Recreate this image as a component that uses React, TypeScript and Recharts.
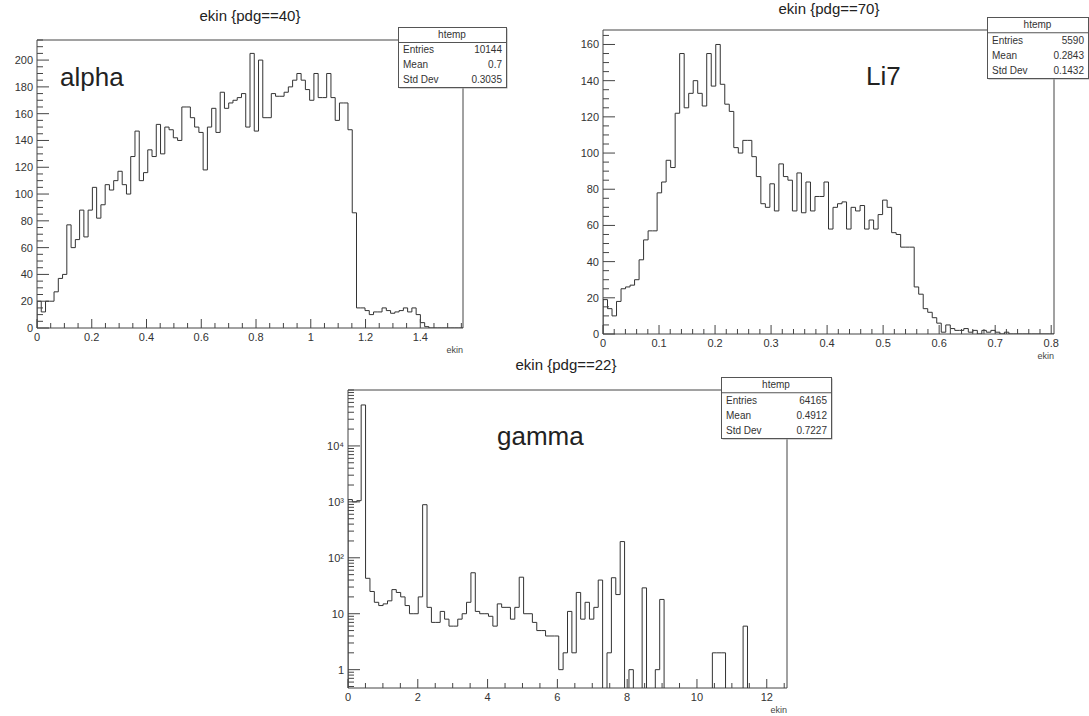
import React from 'react';
import { LineChart, Line, XAxis, YAxis, ReferenceArea } from 'recharts';

const FONT = '"Liberation Sans", Arial, Helvetica, sans-serif';

// ---------------- data ----------------
const alphaXMax = 1.556;
const alphaYMax = 215;
const alphaCounts = [
  20, 12, 20, 20, 27, 37, 40, 77, 60, 66,
  88, 68, 88, 105, 82, 92, 107, 103, 110, 117,
  107, 100, 128, 147, 110, 116, 133, 128, 152, 130,
  150, 148, 142, 140, 165, 165, 157, 150, 146, 118,
  150, 164, 146, 176, 164, 168, 170, 172, 175, 150,
  205, 147, 200, 157, 157, 175, 173, 173, 176, 180,
  185, 190, 185, 178, 170, 190, 172, 172, 190, 172,
  155, 168, 168, 148, 86, 15, 15, 13, 10, 12,
  12, 15, 13, 11, 12, 13, 15, 12, 15, 10,
  4, 1, 0, 0, 0, 0, 0, 0, 0, 0,
];
const alphaXTicks = [0, 0.2, 0.4, 0.6, 0.8, 1, 1.2, 1.4];
const alphaXLabels = ['0', '0.2', '0.4', '0.6', '0.8', '1', '1.2', '1.4'];
const alphaYTicks = [0, 20, 40, 60, 80, 100, 120, 140, 160, 180, 200];
const alphaYLabels = ['0', '20', '40', '60', '80', '100', '120', '140', '160', '180', '200'];

const li7XMax = 0.805;
const li7YMax = 168;
const li7Counts = [
  19, 14, 10, 18, 25, 26, 27, 30, 41, 52,
  57, 57, 78, 84, 96, 92, 122, 155, 125, 133,
  140, 133, 126, 155, 137, 160, 138, 127, 123, 103,
  100, 107, 107, 98, 87, 72, 70, 83, 68, 94,
  87, 85, 68, 89, 67, 84, 68, 76, 76, 84,
  58, 70, 72, 73, 58, 70, 68, 71, 58, 63,
  58, 66, 74, 70, 56, 55, 48, 48, 48, 26,
  22, 14, 12, 9, 6, 1, 5, 3, 2, 2,
  3, 1, 2, 0, 2, 1, 2, 1, 0, 1,
  0, 0, 0, 0, 0, 0, 0, 0, 0, 0,
];
const li7XTicks = [0, 0.1, 0.2, 0.3, 0.4, 0.5, 0.6, 0.7, 0.8];
const li7XLabels = ['0', '0.1', '0.2', '0.3', '0.4', '0.5', '0.6', '0.7', '0.8'];
const li7YTicks = [0, 20, 40, 60, 80, 100, 120, 140, 160];
const li7YLabels = ['0', '20', '40', '60', '80', '100', '120', '140', '160'];

const gammaXMax = 12.58;
const gammaYMin = 0.47;
const gammaYMax = 100000;
const gammaCounts = [
  1100, 1000, 1050, 54000, 43, 25, 16, 14, 15, 17,
  27, 24, 20, 14, 10, 10, 20, 890, 13, 7,
  7, 11, 8, 6, 6, 8, 10, 16, 54, 11,
  10, 10, 9, 6, 15, 13, 13, 8, 13, 45,
  10, 10, 7, 5, 5, 4, 4, 4, 1, 2,
  11, 2, 24, 8, 16, 8, 13, 40, 0, 2,
  44, 22, 195, 0, 1, 0, 0, 29, 0, 0,
  1, 18, 0, 0, 0, 0, 0, 0, 0, 0,
  0, 0, 0, 2, 2, 2, 0, 0, 0, 0,
  6, 0, 0, 0, 0, 0, 0, 0, 0, 0,
];
const gammaXTicks = [0, 2, 4, 6, 8, 10, 12];
const gammaXLabels = ['0', '2', '4', '6', '8', '10', '12'];
const gammaYTicks = [1, 10, 100, 1000, 10000];
const gammaYLabels = ['1', '10', '10\u00B2', '10\u00B3', '10\u2074'];

const stats = {
  alpha: { entries: '10144', mean: '0.7', std: '0.3035' },
  li7: { entries: '5590', mean: '0.2843', std: '0.1432' },
  gamma: { entries: '64165', mean: '0.4912', std: '0.7227' },
};

// ---------------- helpers ----------------
function histData(counts: number[], xmax: number, floor = 0) {
  const w = xmax / counts.length;
  const pts: { x: number; y: number }[] = [{ x: 0, y: floor }];
  counts.forEach((c, i) => pts.push({ x: i * w, y: c > 0 ? c : floor }));
  const last = counts[counts.length - 1];
  pts.push({ x: counts.length * w, y: last > 0 ? last : floor });
  return pts;
}

function linTicks(step: number, max: number) {
  const out: number[] = [];
  for (let i = 0; i * step <= max + 1e-9; i++) out.push(Math.round(i * step * 10000) / 10000);
  return out;
}

function logTicks(min: number, max: number) {
  const out: number[] = [];
  for (let e = -1; e <= 5; e++) {
    for (let m = 1; m <= 9; m++) {
      const v = Math.round(m * Math.pow(10, e) * 1000) / 1000;
      if (v >= min && v <= max) out.push(v);
    }
  }
  return out;
}

const TICK_COLOR = '#444';
const LABEL_COLOR = '#333';

function makeXTick(majors: number[], labels: string[]) {
  return (props: any) => {
    const { x, y, payload } = props;
    const idx = majors.findIndex((m) => Math.abs(m - payload.value) < 1e-6);
    const major = idx >= 0;
    return (
      <g>
        <line x1={x} x2={x} y1={y} y2={y - (major ? 9 : 5)} stroke={TICK_COLOR} strokeWidth={1} />
        {major && (
          <text x={x} y={y + 13} textAnchor="middle" fontSize={11} fill={LABEL_COLOR} fontFamily={FONT}>
            {labels[idx]}
          </text>
        )}
      </g>
    );
  };
}

function makeYTick(majors: number[], labels: string[], rel = false) {
  return (props: any) => {
    const { x, y, payload } = props;
    const idx = majors.findIndex((m) =>
      rel ? Math.abs(m - payload.value) < m * 1e-6 : Math.abs(m - payload.value) < 1e-6,
    );
    const major = idx >= 0;
    return (
      <g>
        <line x1={x} x2={x + (major ? 12 : 6)} y1={y} y2={y} stroke={TICK_COLOR} strokeWidth={1} />
        {major && (
          <text x={x - 4} y={y + 4} textAnchor="end" fontSize={11} fill={LABEL_COLOR} fontFamily={FONT}>
            {labels[idx]}
          </text>
        )}
      </g>
    );
  };
}

const AXIS_W = 30;
const AXIS_H = 20;

type PanelProps = {
  left: number;
  top: number;
  width: number;
  height: number;
  frame: { left: number; top: number; right: number; bottom: number };
  data: { x: number; y: number }[];
  xMax: number;
  yDomain: [number, number];
  xTicks: number[];
  xMajors: number[];
  xLabels: string[];
  yTicks: number[];
  yMajors: number[];
  yLabels: string[];
  log?: boolean;
};

function Panel(p: PanelProps) {
  const margin = {
    top: p.frame.top - p.top,
    left: p.frame.left - p.left - AXIS_W,
    right: p.left + p.width - p.frame.right,
    bottom: p.top + p.height - p.frame.bottom - AXIS_H,
  };
  return (
    <div style={{ position: 'absolute', left: p.left, top: p.top, width: p.width, height: p.height }}>
      <LineChart width={p.width} height={p.height} data={p.data} margin={margin}>
        <XAxis
          type="number"
          dataKey="x"
          domain={[0, p.xMax]}
          allowDataOverflow
          ticks={p.xTicks}
          interval={0}
          tickSize={0}
          tickMargin={0}
          height={AXIS_H}
          axisLine={false}
          tickLine={false}
          tick={makeXTick(p.xMajors, p.xLabels)}
        />
        <YAxis
          type="number"
          scale={p.log ? 'log' : 'linear'}
          domain={p.yDomain}
          allowDataOverflow
          ticks={p.yTicks}
          interval={0}
          tickSize={0}
          tickMargin={0}
          width={AXIS_W}
          axisLine={false}
          tickLine={false}
          tick={makeYTick(p.yMajors, p.yLabels, p.log)}
        />
        <ReferenceArea
          x1={0}
          x2={p.xMax}
          y1={p.yDomain[0]}
          y2={p.yDomain[1]}
          fill="none"
          fillOpacity={0}
          stroke="#444"
          strokeWidth={1}
          ifOverflow="visible"
        />
        <Line
          type="stepAfter"
          dataKey="y"
          stroke="#333"
          strokeWidth={1}
          dot={false}
          activeDot={false}
          isAnimationActive={false}
        />
      </LineChart>
    </div>
  );
}

function StatsBox({ x, y, w, h, s }: { x: number; y: number; w: number; h: number; s: { entries: string; mean: string; std: string } }) {
  const rh = h / 4;
  const rows: [string, string][] = [
    ['Entries', s.entries],
    ['Mean', s.mean],
    ['Std Dev', s.std],
  ];
  return (
    <g fontFamily={FONT} fontSize={10} fill="#333">
      <rect x={x + 1.5} y={y + 1.5} width={w} height={h} fill="#aaa" />
      <rect x={x + 0.5} y={y + 0.5} width={w} height={h} fill="#fff" stroke="#555" strokeWidth={1} />
      <line x1={x} x2={x + w} y1={y + rh + 0.5} y2={y + rh + 0.5} stroke="#555" strokeWidth={1} />
      <text x={x + w / 2} y={y + rh - 4} textAnchor="middle">htemp</text>
      {rows.map(([k, v], i) => (
        <g key={k}>
          <text x={x + 5} y={y + rh * (i + 2) - 4}>{k}</text>
          <text x={x + w - 4} y={y + rh * (i + 2) - 4} textAnchor="end">{v}</text>
        </g>
      ))}
    </g>
  );
}

export default function App() {
  const alphaData = histData(alphaCounts, alphaXMax, 0);
  const li7Data = histData(li7Counts, li7XMax, 0);
  const gammaData = histData(gammaCounts, gammaXMax, 0.1);

  return (
    <div
      style={{
        position: 'absolute',
        left: 0,
        top: 0,
        width: 1089,
        height: 716,
        background: '#fff',
        overflow: 'hidden',
        fontFamily: FONT,
      }}
    >
      <Panel
        left={0}
        top={0}
        width={490}
        height={360}
        frame={{ left: 37, top: 40, right: 463, bottom: 328 }}
        data={alphaData}
        xMax={alphaXMax}
        yDomain={[0, alphaYMax]}
        xTicks={linTicks(0.05, alphaXMax)}
        xMajors={alphaXTicks}
        xLabels={alphaXLabels}
        yTicks={linTicks(5, alphaYMax)}
        yMajors={alphaYTicks}
        yLabels={alphaYLabels}
      />
      <Panel
        left={540}
        top={0}
        width={549}
        height={360}
        frame={{ left: 603, top: 30, right: 1054, bottom: 334 }}
        data={li7Data}
        xMax={li7XMax}
        yDomain={[0, li7YMax]}
        xTicks={linTicks(0.02, li7XMax)}
        xMajors={li7XTicks}
        xLabels={li7XLabels}
        yTicks={linTicks(5, li7YMax)}
        yMajors={li7YTicks}
        yLabels={li7YLabels}
      />
      <Panel
        left={300}
        top={350}
        width={520}
        height={366}
        frame={{ left: 348, top: 390, right: 787, bottom: 688 }}
        data={gammaData}
        xMax={gammaXMax}
        yDomain={[gammaYMin, gammaYMax]}
        xTicks={linTicks(0.5, gammaXMax)}
        xMajors={gammaXTicks}
        xLabels={gammaXLabels}
        yTicks={logTicks(gammaYMin, gammaYMax)}
        yMajors={gammaYTicks}
        yLabels={gammaYLabels}
        log
      />
      <svg
        width={1089}
        height={716}
        style={{ position: 'absolute', left: 0, top: 0, pointerEvents: 'none' }}
        fontFamily={FONT}
      >
        {/* titles */}
        <text x={250} y={21} textAnchor="middle" fontSize={15} fill="#222">ekin {'{pdg==40}'}</text>
        <text x={829} y={14} textAnchor="middle" fontSize={15} fill="#222">ekin {'{pdg==70}'}</text>
        <text x={566} y={370} textAnchor="middle" fontSize={15} fill="#222">ekin {'{pdg==22}'}</text>
        {/* particle labels */}
        <text x={60} y={86} fontSize={26} fill="#222">alpha</text>
        <text x={866} y={85} fontSize={26} fill="#222">Li7</text>
        <text x={497} y={445} fontSize={26} fill="#222">gamma</text>
        {/* axis titles */}
        <text x={463} y={353} textAnchor="end" fontSize={9} fill="#444">ekin</text>
        <text x={1054} y={359} textAnchor="end" fontSize={9} fill="#444">ekin</text>
        <text x={787} y={713} textAnchor="end" fontSize={9} fill="#444">ekin</text>
        {/* stats boxes */}
        <StatsBox x={398} y={27} w={108} h={60} s={stats.alpha} />
        <StatsBox x={987} y={17} w={101} h={61} s={stats.li7} />
        <StatsBox x={721} y={377} w={110} h={61} s={stats.gamma} />
      </svg>
    </div>
  );
}
